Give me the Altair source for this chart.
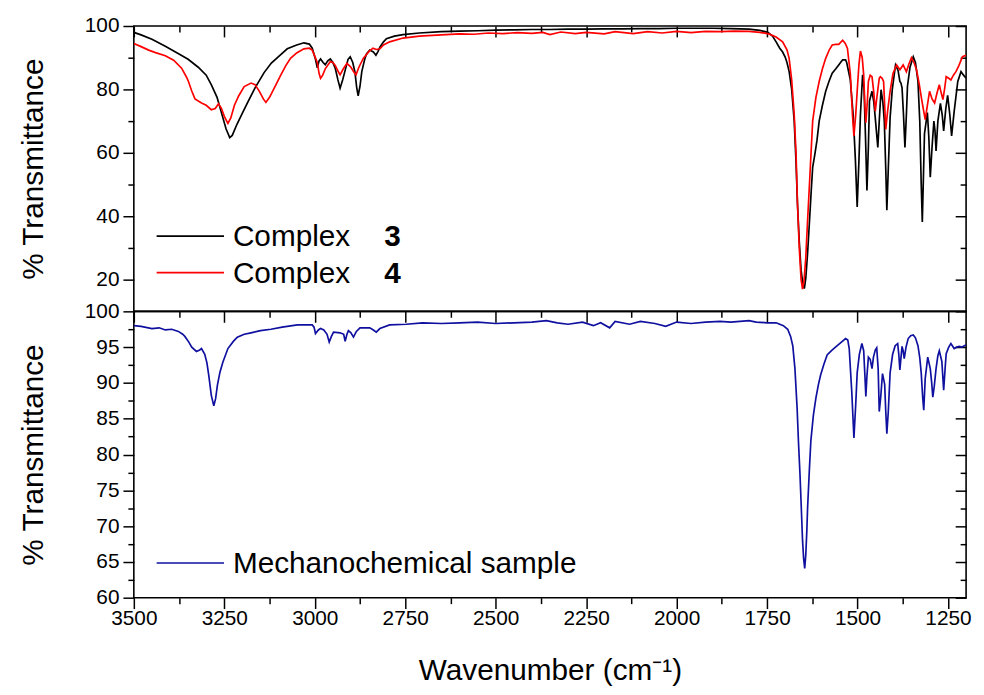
import altair as alt
import pandas as pd

# ---------------- data ----------------
series_top = ["Complex 3", "Complex 4"]
series_bot = ["Mechanochemical sample"]

wn_c3 = [3500, 3480, 3450, 3413, 3380, 3350, 3322, 3300, 3286, 3270, 3255, 3245, 3235, 3228, 3215, 3200,
         3185, 3165, 3140, 3120, 3094, 3076, 3050, 3030, 3015, 3007, 2998, 2993, 2988, 2984, 2977, 2971,
         2964, 2957, 2950, 2943, 2936, 2930, 2923, 2916, 2908, 2902, 2895, 2889, 2884, 2880, 2875, 2870,
         2862, 2857, 2848, 2838, 2831, 2825, 2820, 2810, 2802, 2780, 2756, 2711, 2650, 2600, 2550, 2500,
         2450, 2400, 2350, 2300, 2250, 2200, 2150, 2100, 2050, 2000, 1950, 1900, 1850, 1800, 1770, 1748,
         1735, 1725, 1715, 1707, 1700, 1695, 1689, 1682, 1675, 1670, 1666, 1661, 1656, 1651, 1647, 1643,
         1638, 1632, 1628, 1624, 1618, 1612, 1606, 1597, 1588, 1579, 1570, 1560, 1552, 1545, 1541, 1533,
         1530, 1520, 1512, 1506, 1501, 1496, 1492, 1486, 1482, 1478, 1474, 1470, 1467, 1460, 1455, 1451,
         1444, 1440, 1435, 1430, 1426, 1422, 1419, 1415, 1410, 1404, 1395, 1388, 1383, 1380, 1377, 1373,
         1369, 1365, 1362, 1355, 1346, 1340, 1333, 1328, 1324, 1321, 1318, 1315, 1307, 1303, 1299, 1294,
         1289, 1286, 1283, 1278, 1271, 1266, 1262, 1256, 1251, 1245, 1240, 1233, 1223, 1214, 1207, 1200]
t_c3 = [98.0, 97.2, 95.8, 93.6, 91.5, 89.5, 87.0, 84.5, 81.5, 77.5, 71.5, 67.5, 64.8, 65.5, 69.0, 72.5,
        76.0, 80.5, 85.3, 88.3, 91.0, 92.8, 94.0, 94.7, 94.3, 93.0, 89.5, 86.8, 89.0, 89.6, 88.5, 87.8,
        89.0, 89.6, 88.5, 86.5, 83.0, 80.4, 83.0, 86.0, 89.5, 90.3, 88.5, 85.5, 80.5, 78.0, 81.0, 85.6,
        89.5, 91.2, 92.4, 91.8, 90.8, 92.0, 93.3, 95.0, 96.0, 96.8, 97.3, 97.8, 98.2, 98.4, 98.5, 98.7,
        98.8, 98.9, 98.9, 99.0, 99.0, 99.1, 99.1, 99.2, 99.2, 99.3, 99.3, 99.3, 99.2, 99.0, 98.6, 98.0,
        96.8, 95.0, 93.0, 91.8, 90.2, 88.5, 85.6, 80.0, 70.0, 57.0, 44.0, 32.0, 23.0, 18.5, 17.2, 20.5,
        28.4, 40.0, 48.0, 55.4, 59.5, 64.0, 70.0, 75.0, 79.4, 82.5, 85.1, 86.5, 87.7, 88.8, 89.3, 89.3,
        88.5, 83.0, 72.0, 58.0, 42.9, 58.0, 72.1, 84.6, 80.0, 65.0, 48.1, 62.0, 76.3, 79.4, 76.0, 71.0,
        61.7, 70.0, 79.9, 76.0, 70.0, 55.0, 41.9, 55.0, 71.1, 80.0, 87.7, 86.0, 82.5, 82.0, 80.5, 72.0,
        61.7, 72.0, 81.0, 87.0, 90.3, 88.5, 82.5, 70.0, 50.2, 38.2, 52.0, 66.0, 72.7, 65.0, 52.3, 62.0,
        70.0, 67.0, 60.6, 70.0, 75.6, 72.0, 66.9, 74.0, 78.1, 72.0, 65.3, 73.0, 82.5, 85.6, 84.5, 83.5]

wn_c4 = [3500, 3480, 3459, 3440, 3413, 3390, 3368, 3355, 3349, 3340, 3331, 3313, 3300, 3286, 3275, 3266,
         3258, 3250, 3240, 3232, 3222, 3210, 3195, 3176, 3165, 3153, 3142, 3135, 3125, 3112, 3094, 3080,
         3067, 3050, 3030, 3015, 3007, 3000, 2993, 2988, 2984, 2978, 2971, 2957, 2950, 2943, 2936, 2930,
         2921, 2911, 2900, 2892, 2886, 2878, 2866, 2850, 2839, 2830, 2820, 2810, 2793, 2756, 2711, 2650,
         2600, 2560, 2520, 2480, 2440, 2400, 2370, 2350, 2320, 2280, 2250, 2200, 2170, 2120, 2080, 2040,
         2000, 1960, 1920, 1880, 1840, 1800, 1770, 1745, 1725, 1707, 1695, 1689, 1682, 1675, 1670, 1666,
         1661, 1656, 1652, 1648, 1643, 1638, 1632, 1624, 1615, 1606, 1597, 1588, 1578, 1570, 1560, 1552,
         1541, 1534, 1528, 1520, 1514, 1510, 1505, 1501, 1496, 1492, 1487, 1483, 1480, 1477, 1473, 1470,
         1465, 1460, 1455, 1451, 1446, 1440, 1437, 1432, 1428, 1425, 1422, 1417, 1410, 1402, 1392, 1383,
         1374, 1365, 1358, 1351, 1344, 1337, 1330, 1322, 1313, 1307, 1301, 1294, 1287, 1280, 1274, 1269,
         1264, 1259, 1255, 1248, 1242, 1235, 1228, 1220, 1210, 1200]
t_c4 = [94.5, 93.5, 92.4, 91.6, 90.6, 89.2, 86.7, 84.0, 82.5, 79.5, 77.0, 75.7, 75.0, 73.6, 74.0, 75.5,
        74.0, 71.5, 69.3, 71.0, 75.0, 78.0, 80.9, 82.0, 81.5, 79.4, 77.0, 75.9, 77.5, 80.4, 84.5, 87.5,
        89.8, 91.5, 92.8, 93.0, 92.4, 90.5, 88.5, 85.0, 83.5, 84.5, 86.5, 88.8, 88.5, 87.5, 85.8, 84.6,
        86.5, 88.2, 87.0, 85.5, 84.6, 87.0, 89.8, 92.0, 93.0, 92.6, 92.8, 94.0, 95.0, 96.2, 96.8, 97.2,
        97.5, 97.4, 97.8, 97.6, 97.9, 97.7, 98.0, 97.3, 98.1, 97.6, 98.0, 97.5, 98.2, 97.6, 98.2, 97.8,
        98.3, 97.9, 98.3, 98.2, 98.4, 98.3, 98.0, 97.5, 96.5, 95.0, 92.5, 89.8, 83.0, 72.1, 60.0, 44.0,
        30.0, 20.0, 17.0, 19.5, 27.0, 38.8, 52.0, 70.0, 77.5, 82.5, 86.5, 89.8, 92.5, 94.0, 94.2, 94.2,
        95.5, 94.5, 93.0, 85.0, 72.0, 65.3, 72.0, 79.4, 88.0, 92.1, 90.0, 84.6, 76.0, 69.5, 76.0, 82.5,
        84.5, 84.0, 79.0, 73.1, 78.0, 83.5, 84.0, 83.5, 82.5, 75.0, 67.4, 73.0, 79.4, 85.0, 87.7, 86.2,
        87.7, 85.6, 88.0, 90.0, 88.5, 86.2, 82.0, 76.3, 70.5, 75.0, 79.4, 77.0, 75.7, 79.0, 81.5, 79.0,
        76.8, 80.5, 84.0, 83.5, 83.0, 84.5, 85.6, 87.5, 90.3, 90.8]

wn_m = [3500, 3480, 3450, 3430, 3413, 3395, 3377, 3365, 3359, 3348, 3340, 3327, 3318, 3313, 3304, 3298,
        3293, 3286, 3279, 3274, 3269, 3262, 3254, 3240, 3225, 3214, 3195, 3176, 3150, 3121, 3090, 3048,
        3007, 3002, 2998, 2990, 2984, 2975, 2966, 2960, 2954, 2948, 2930, 2920, 2916, 2911, 2907, 2900,
        2893, 2885, 2875, 2848, 2838, 2830, 2820, 2793, 2747, 2702, 2650, 2600, 2550, 2500, 2450, 2400,
        2360, 2330, 2300, 2260, 2230, 2210, 2185, 2170, 2130, 2100, 2060, 2030, 2000, 1960, 1920, 1880,
        1850, 1800, 1780, 1750, 1725, 1705, 1693, 1685, 1679, 1673, 1667, 1663, 1659, 1655, 1652, 1649,
        1646, 1643, 1640, 1638, 1633, 1629, 1622, 1615, 1608, 1602, 1593, 1584, 1572, 1561, 1547, 1533,
        1527, 1523, 1516, 1510, 1505, 1501, 1495, 1488, 1483, 1480, 1477, 1474, 1470, 1465, 1460, 1456,
        1451, 1447, 1443, 1440, 1436, 1431, 1425, 1422, 1419, 1415, 1410, 1403, 1396, 1389, 1386, 1383,
        1380, 1377, 1374, 1371, 1366, 1360, 1353, 1346, 1340, 1333, 1328, 1324, 1320, 1317, 1313, 1306,
        1299, 1295, 1292, 1288, 1283, 1278, 1274, 1267, 1262, 1258, 1255, 1248, 1242, 1233, 1226, 1219,
        1212, 1205, 1200]
t_m = [98.0, 97.9, 97.6, 97.7, 97.4, 97.5, 97.2, 96.8, 96.5, 95.7, 95.0, 94.4, 94.6, 94.8, 94.0, 92.8,
       91.1, 88.3, 86.8, 87.8, 89.7, 91.5, 92.9, 94.8, 95.8, 96.4, 96.8, 97.0, 97.3, 97.5, 97.8, 98.1,
       98.1, 97.8, 96.9, 97.4, 97.6, 97.4, 96.8, 95.7, 96.5, 97.1, 97.0, 96.8, 95.8, 96.8, 97.3, 97.0,
       96.4, 97.2, 97.7, 97.7, 97.4, 97.1, 97.6, 98.1, 98.2, 98.4, 98.3, 98.4, 98.5, 98.3, 98.4, 98.5,
       98.7, 98.4, 98.2, 98.5, 98.0, 98.4, 97.7, 98.6, 98.2, 98.6, 98.3, 97.9, 98.5, 98.3, 98.5, 98.6,
       98.5, 98.7, 98.5, 98.4, 98.4, 98.0, 97.5, 96.5, 95.2, 92.0, 86.5, 81.5, 77.2, 72.0, 68.0, 65.5,
       64.1, 66.0, 69.5, 72.6, 78.0, 81.9, 85.5, 87.9, 89.8, 91.1, 92.6, 93.9, 94.5, 95.0, 95.6, 96.2,
       96.0, 94.8, 88.8, 82.3, 87.0, 91.4, 94.0, 95.5, 94.5, 91.4, 88.1, 91.0, 93.6, 93.3, 92.0, 93.6,
       94.6, 94.9, 92.0, 86.0, 88.0, 91.3, 89.8, 86.0, 82.9, 86.0, 91.4, 94.0, 95.2, 95.5, 94.0, 91.8,
       93.5, 95.1, 94.5, 93.4, 95.0, 96.2, 96.6, 96.7, 96.3, 95.2, 93.5, 91.4, 88.0, 86.2, 90.6, 93.6,
       92.0, 90.0, 88.0, 89.5, 92.0, 93.8, 94.5, 93.0, 89.0, 92.0, 94.1, 95.0, 95.5, 94.8, 95.0, 95.1,
       95.0, 95.2, 95.3]

x_major = [3500, 3250, 3000, 2750, 2500, 2250, 2000, 1750, 1500, 1250]
x_minor = [3375, 3125, 2875, 2625, 2375, 2125, 1875, 1625, 1375]
y_top_major = [20, 40, 60, 80, 100]
y_top_minor = [30, 50, 70, 90]
y_bot_major = [60, 65, 70, 75, 80, 85, 90, 95, 100]
y_bot_minor = [62.5, 67.5, 72.5, 77.5, 82.5, 87.5, 92.5, 97.5]

legend_top_names = ["Complex", "Complex"]
legend_top_nums = ["3", "4"]
legend_bot_names = ["Mechanochemical sample"]

colors_top = ["#000000", "#ff0000"]
colors_bot = ["#1010a0"]

# ---------------- styling ----------------
FONT = "Liberation Sans, Arial, sans-serif"
W = 840
H_TOP = 288
H_BOT = 289
X_DOMAIN = [3500, 1200]
MAJ = 11
MIN = 6
LW = 1.7

df_top = pd.concat([
    pd.DataFrame({"wn": wn_c3, "t": t_c3, "series": series_top[0]}),
    pd.DataFrame({"wn": wn_c4, "t": t_c4, "series": series_top[1]}),
], ignore_index=True)
df_bot = pd.DataFrame({"wn": wn_m, "t": t_m, "series": series_bot[0]})


def ax(orient, values, size, labels=False, title=None, offset=0, **kw):
    return alt.Axis(orient=orient, values=values, tickSize=size, labels=labels, title=title,
                    offset=offset, domain=False, grid=False, ticks=True, tickColor="black",
                    tickWidth=1.5, labelColor="black", titleColor="black", labelFont=FONT,
                    titleFont=FONT, labelFontSize=21, titleFontSize=30, titleFontWeight="normal",
                    labelFlush=False, format="d", **kw)


def legend_layers(names, nums, colors, ys):
    out = []
    for i, name in enumerate(names):
        d = pd.DataFrame({"name": [name], "num": [nums[i] if nums else ""]})
        y = ys[i]
        out.append(alt.Chart(d).mark_rule(color=colors[i], strokeWidth=LW).encode(
            x=alt.value(23), x2=alt.value(91), y=alt.value(y)))
        out.append(alt.Chart(d).mark_text(align="left", baseline="middle", font=FONT, fontSize=30,
                                          color="black", dy=1).encode(
            x=alt.value(100), y=alt.value(y), text="name:N"))
        if nums:
            out.append(alt.Chart(d).mark_text(align="center", baseline="middle", font=FONT, fontSize=30,
                                              fontWeight="bold", color="black", dy=1).encode(
                x=alt.value(261), y=alt.value(y), text="num:N"))
    return out


def panel(df, domain, colors, ydom, ymaj, ymin, height, with_bottom, legs):
    xs = alt.Scale(domain=X_DOMAIN, nice=False, zero=False)
    ys = alt.Scale(domain=ydom, nice=False, zero=False)
    base = alt.Chart(df)
    x_main = ax("bottom", x_major, MAJ, labels=True, title="Wavenumber (cm\u207b\u00b9)",
                labelPadding=-1, titlePadding=28) if with_bottom else None
    x_min = ax("bottom", x_minor, MIN) if with_bottom else None
    lines = base.mark_line(strokeWidth=LW, clip=True).encode(
        x=alt.X("wn:Q", scale=xs, axis=x_main),
        y=alt.Y("t:Q", scale=ys, axis=ax("left", ymaj, MAJ, labels=True, title="% Transmittance",
                                          labelPadding=4, titlePadding=36)),
        color=alt.Color("series:N", scale=alt.Scale(domain=domain, range=colors), legend=None),
    )
    minor = base.mark_line(opacity=0).encode(
        x=alt.X("wn:Q", scale=xs, axis=x_min),
        y=alt.Y("t:Q", scale=ys, axis=ax("left", ymin, MIN)),
    )
    top_maj = base.mark_line(opacity=0).encode(
        x=alt.X("wn:Q", scale=xs, axis=ax("top", x_major, MAJ, offset=-MAJ)),
        y=alt.Y("t:Q", scale=ys, axis=ax("right", ymaj, MAJ, offset=-MAJ)),
    )
    top_min = base.mark_line(opacity=0).encode(
        x=alt.X("wn:Q", scale=xs, axis=ax("top", x_minor, MIN, offset=-MIN)),
        y=alt.Y("t:Q", scale=ys, axis=ax("right", ymin, MIN, offset=-MIN)),
    )
    return alt.layer(lines, minor, top_maj, top_min, *legs).resolve_axis(
        x="independent", y="independent").properties(width=W, height=height)


top = panel(df_top, series_top, colors_top, [10, 100], y_top_major, y_top_minor, H_TOP, False,
            legend_layers(legend_top_names, legend_top_nums, colors_top, [212, 249]))
bot = panel(df_bot, series_bot, colors_bot, [60, 100], y_bot_major, y_bot_minor, H_BOT, True,
            legend_layers(legend_bot_names, None, colors_bot, [254]))

chart = alt.vconcat(top, bot, spacing=0, bounds="flush").resolve_scale(color="independent").properties(
    padding={"left": 10, "top": 3, "right": 4, "bottom": 0}
).configure(background="white").configure_view(stroke="black", strokeWidth=1.6)

chart.save("out.html", embed_options={"renderer": "svg", "actions": False})
